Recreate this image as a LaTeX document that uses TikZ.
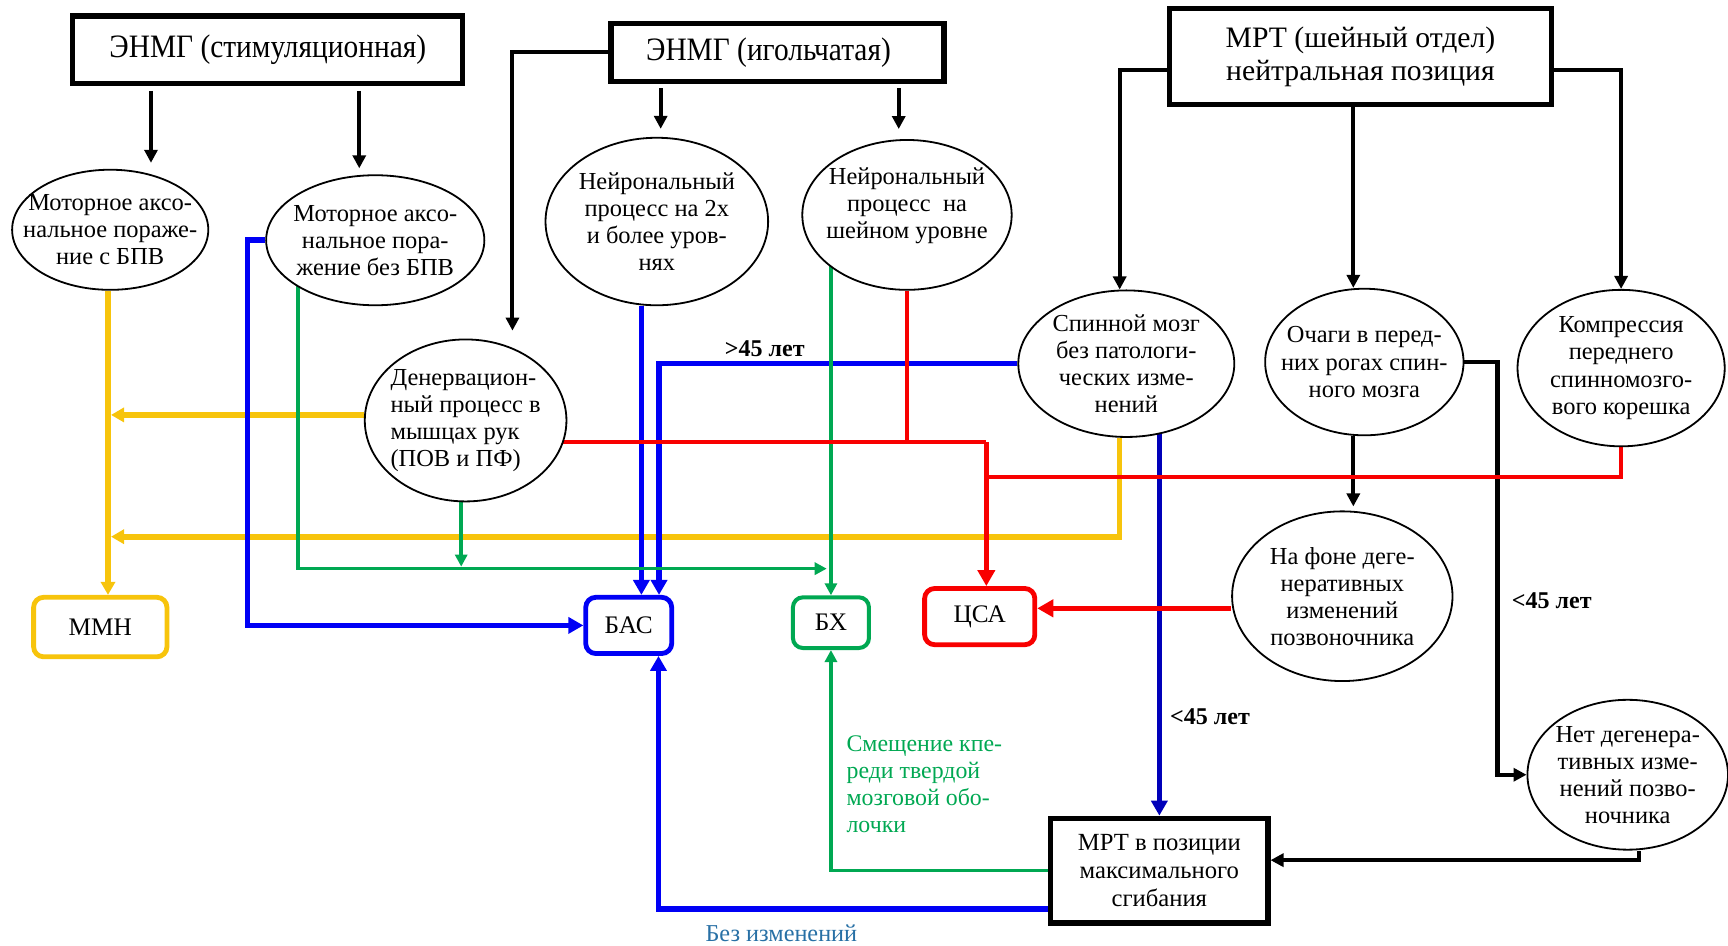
\documentclass[tikz,border=0pt]{standalone}
\usepackage{fontspec}
\setmainfont{Liberation Serif}
\newfontfamily\hdrfont{Liberation Serif}[FakeStretch=0.9]
\usetikzlibrary{shapes.geometric,arrows.meta,calc}
\newlength\uu
\setlength\uu{0.55pt}
\pgfdeclarelayer{bg}
\pgfsetlayers{bg,main}
\definecolor{cyel}{RGB}{247,196,12}
\definecolor{cblue}{RGB}{0,0,245}
\definecolor{cnavy}{RGB}{0,0,185}
\definecolor{cgreen}{RGB}{0,168,82}
\definecolor{cred}{RGB}{248,0,0}
\definecolor{clab}{RGB}{40,112,165}
\tikzset{
  sz/.style 2 args={minimum width=#1*\uu, minimum height=#2*\uu},
  ell/.style={ellipse, draw, line width=0.9pt, fill=white, inner sep=0pt},
  etext/.style={label={[align=center, inner sep=0pt, font=\fontsize{12.2}{13.5}\selectfont]center:#1}},
  ltext/.style={label={[align=left, inner sep=0pt, font=\fontsize{12.2}{13.5}\selectfont]center:#1}},
  utext/.style={label={[align=center, inner sep=0pt, yshift=4.4pt, font=\fontsize{12.2}{13.5}\selectfont]center:#1}},
  hbox/.style={rectangle, draw, line width=2.6pt, fill=white, inner sep=0pt, align=center},
  fbox/.style={rectangle, draw, line width=2.4pt, rounded corners=5pt, fill=white, inner sep=0pt, font=\fontsize{12.6}{14}\selectfont},
  blk/.style={draw=black, line width=2pt, -{Triangle[length=6.5pt,width=6.5pt]}},
  yl/.style={draw=cyel, line width=2.8pt, -{Triangle[length=6.5pt,width=7pt]}},
  bl/.style={draw=cblue, line width=2.8pt, -{Triangle[length=7.5pt,width=8pt]}},
  nv/.style={draw=cnavy, line width=2.6pt, -{Triangle[length=7.5pt,width=8pt]}},
  gr/.style={draw=cgreen, line width=1.8pt, -{Triangle[length=6pt,width=6pt]}},
  rd/.style={draw=cred, line width=2.3pt, -{Triangle[length=8pt,width=8.5pt]}},
  lbl/.style={inner sep=1pt, font=\fontsize{12}{14}\selectfont},
}
\begin{document}
\begin{tikzpicture}[x=0.55pt, y=-0.55pt]
\useasboundingbox (0,0) rectangle (1568,858);
% header boxes
\node[hbox, sz={354}{61}, font=\hdrfont\fontsize{16.3}{19}\selectfont] (A1) at (243,45) {ЭНМГ (стимуляционная)};
\node[hbox, sz={302}{53}, font=\hdrfont\fontsize{16.3}{19}\selectfont] (A2) at (705.5,47.5) {ЭНМГ (игольчатая)\hspace*{9pt}};
\node[hbox, sz={347}{87}, font=\fontsize{14.8}{16.8}\selectfont] (A3) at (1234.5,51.5) {МРТ (шейный отдел)\\нейтральная позиция};
% ellipses
\node[ell, sz={178}{109}, etext={Моторное аксо-\\нальное пораже-\\ние с БПВ}] (E1) at (100,208.5) {};
\node[ell, sz={198}{118}, etext={Моторное аксо-\\нальное пора-\\жение без БПВ}] (E2) at (340.5,218) {};
\node[ell, sz={202}{152}, etext={Нейрональный\\процесс на 2х\\и более уров-\\нях}] (E3) at (596,201) {};
\node[ell, sz={190}{136}, utext={Нейрональный\\процесс\ \ на\\шейном уровне}] (E4) at (823,195) {};
\node[ell, sz={183}{147}, ltext={Денервацион-\\ный процесс в\\мышцах рук\\(ПОВ и ПФ)}] (E5) at (422.5,381.5) {};
\node[ell, sz={196}{133}, etext={Спинной мозг\\без патологи-\\ческих изме-\\нений}] (E6) at (1022,330) {};
\node[ell, sz={180}{133}, etext={Очаги в перед-\\них рогах спин-\\ного мозга}] (E7) at (1238,328.5) {};
\node[ell, sz={188}{142}, etext={Компрессия\\переднего\\спинномозго-\\вого корешка}] (E8) at (1471,334) {};
\node[ell, sz={200}{154}, etext={На фоне деге-\\неративных\\изменений\\позвоночника}] (E9) at (1218,541) {};
\node[ell, sz={182}{136}, etext={Нет дегенера-\\тивных изме-\\нений позво-\\ночника}] (E10) at (1477,703) {};
\node[hbox, sz={197}{95}, font=\fontsize{12.3}{13.8}\selectfont] (M2) at (1052,790) {МРТ в позиции\\максимального\\сгибания};
% final boxes
\node[fbox, draw=cyel, sz={121}{54}] (MMN) at (91,569) {ММН};
\node[fbox, draw=cblue, sz={78}{51}] (BAS) at (570.5,567.5) {БАС};
\node[fbox, draw=cgreen, line width=2pt, sz={69}{46}] (BH) at (754,565) {БХ};
\node[fbox, draw=cred, sz={100}{51}] (CSA) at (889,559.5) {ЦСА};
% labels
\node[lbl, font=\bfseries\fontsize{12}{14}\selectfont] (L1) at (694,316) {>45 лет};
\node[lbl, font=\bfseries\fontsize{12}{14}\selectfont] (L2) at (1098,650) {<45 лет};
\node[lbl, font=\bfseries\fontsize{12}{14}\selectfont] (L3) at (1408,545) {<45 лет};
\node[lbl, text=cgreen, align=left, anchor=north west, font=\fontsize{11.9}{13.6}\selectfont] (L4) at (766,665) {Смещение кпе-\\реди твердой\\мозговой обо-\\лочки};
\node[lbl, text=clab, font=\fontsize{12.1}{13.5}\selectfont] (L5) at (709,847) {Без изменений};
% coordinates
\coordinate (a1) at ($(A1.south)+(-106,0)$);
\coordinate (a2) at ($(A1.south)+(83,0)$);
\coordinate (b1) at ($(A2.south)+(-106,0)$);
\coordinate (b2) at ($(A2.south)+(110,0)$);
\coordinate (c5) at (465,300);
\coordinate (m1) at ($(A3.west)+(0,12)$);
\coordinate (m2) at ($(A3.east)+(0,12)$);
\coordinate (m3) at ($(E7.north)+(-10,0)$);
\coordinate (m4) at ($(E7.south)+(-10,0)$);
\coordinate (m5) at ($(E10.south)+(10,0)$);
\coordinate (m6) at ($(M2.east)+(0,-9.5)$);
\coordinate (yv) at ($(E1.south)+(-2,0)$);
\coordinate (y1) at ($(E5.west)+(0,-5)$);
\coordinate (y2) at ($(E6.south)+(-6,0)$);
\coordinate (yj) at (98,487);
\coordinate (s3) at ($(E3.south)+(-14,0)$);
\coordinate (s6) at ($(BAS.north)+(27.5,0)$);
\coordinate (s8) at ($(M2.west)+(0,35)$);
\coordinate (s9) at ($(BAS.south)+(27,0)$);
\coordinate (g0) at ($(E2.center)+(-70,0)$);
\coordinate (gj) at (752,516);
\coordinate (g5) at ($(E5.south)+(-4,0)$);
\coordinate (r1) at (895,401);
\coordinate (r2) at (895,433);
\coordinate (r3) at ($(E9.west)+(0,11)$);
\begin{pgfonlayer}{bg}
% black
\draw[blk, shorten <=2.5pt, shorten >=3pt] (a1) -- (a1 |- E1.north);
\draw[blk, shorten <=2.5pt, shorten >=3pt] (a2) -- (a2 |- E2.north);
\draw[blk, shorten <=2pt, shorten >=4pt] (b1) -- (b1 |- E3.north);
\draw[blk, shorten <=2pt, shorten >=5pt] (b2) -- (b2 |- E4.north);
\draw[blk] (A2.west) -| (c5);
\draw[blk] (m1) -| ($(E6.north)+(-6,0)$);
\draw[blk] (m3 |- A3.south) -- (m3);
\draw[blk] (m2) -| (E8.north);
\draw[blk, shorten >=2pt] (m4) -- (m4 |- E9.north);
\draw[blk] (E7.east) -- ++(30,0) |- (E10.west);
\draw[blk] (m5) |- (m6);
% yellow
\draw[yl] (yv) -- (yv |- MMN.north);
\draw[yl, shorten >=1.5pt] (y1) -- (y1 -| yv);
\draw[yl, shorten >=1.5pt] (y2) |- (yj);
% blue
\draw[bl] (E2.west) -- ++(-16,0) |- (BAS.west);
\draw[bl] (s3) -- (s3 |- BAS.north);
\draw[bl] (E6.west) -| (s6);
\draw[nv] (E6.center -| M2.north) -- (M2.north);
\draw[bl] (s8) -| (s9);
% green
\draw[gr, shorten >=1pt] (g0) |- (gj);
\draw[gr, shorten >=1pt] (g5) -- (g5 |- gj);
\draw[gr] (E4.center -| BH.north) -- (BH.north);
\draw[gr] (M2.west) -| (BH.south);
% red
\draw[rd, -] (E4.south) |- (r1);
\draw[rd, -] (E5.center |- r1) -- (r1);
\draw[rd] (r1) -- (r1 |- CSA.north);
\draw[rd, -] (E8.south) |- (r2);
\draw[rd] (r3) -- (r3 -| CSA.east);
\end{pgfonlayer}
\end{tikzpicture}
\end{document}
